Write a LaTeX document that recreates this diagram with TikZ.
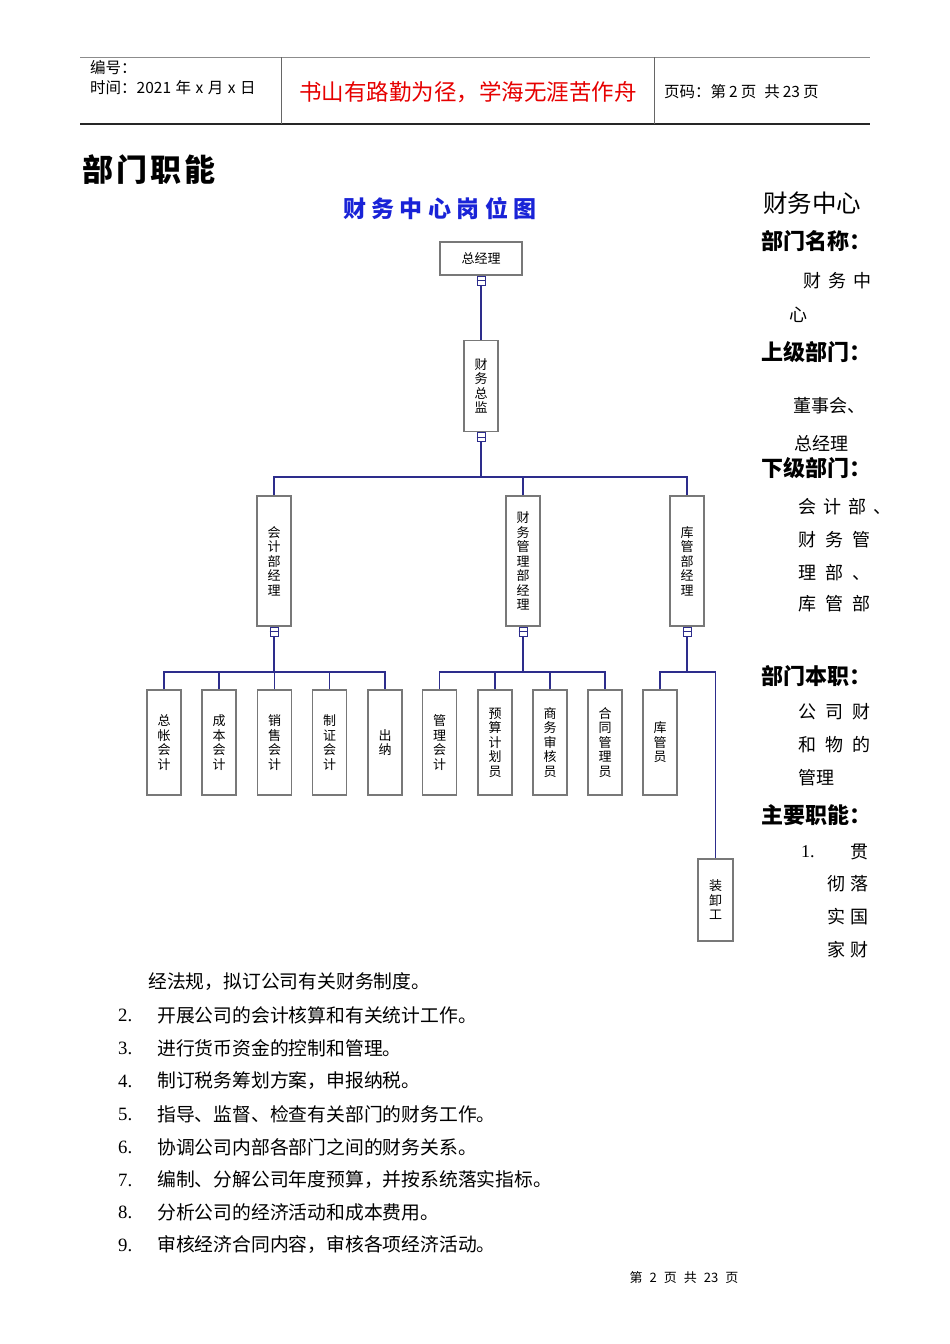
\documentclass[tikz,border=0pt]{standalone}
\usepackage{fontspec}
\setmainfont{Noto Sans CJK SC}
\newfontfamily\numfont{Liberation Serif}
\definecolor{lineblue}{RGB}{45,45,140}
\definecolor{boxgray}{RGB}{120,120,120}
\definecolor{mottored}{RGB}{230,0,0}
\definecolor{titleblue}{RGB}{25,35,215}
\newcommand{\rh}{\fontsize{22}{22}\selectfont\bfseries}
\newcommand{\rb}{\fontsize{18}{18}\selectfont}
\newcommand{\lb}{\fontsize{18.8}{18.8}\selectfont}
\begin{document}
\begin{tikzpicture}[x=1pt,y=-1pt,
  box/.style={draw=boxgray, line width=1.3pt, fill=white, inner sep=0pt, align=center, font=\fontsize{13}{14.5}\selectfont},
  conn/.style={draw=lineblue, line width=1.4pt},
  sq/.style={draw=lineblue, line width=1pt, minimum width=8pt, minimum height=9pt, inner sep=0pt, fill=white, anchor=north},
  txt/.style={anchor=west, inner sep=0pt},
]
\useasboundingbox (0,0) rectangle (950,1344);
\fill[white] (0,0) rectangle (950,1344);

% header
\draw[black!45, line width=1pt] (80,57) -- (870,57);
\draw[black!85, line width=1.2pt] (80,124) -- (870,124);
\draw[black!60, line width=1pt] (281,57) -- (281,124);
\draw[black!60, line width=1pt] (654,57) -- (654,124);
\node[txt] (bh) at (90,68) {\fontsize{15.5}{15.5}\selectfont 编号：};
\node[txt] (sj) at (90,88) {\fontsize{15.5}{15.5}\selectfont 时间：2021\hspace{4.5pt}年\hspace{4.5pt}x\hspace{4.5pt}月\hspace{4.5pt}x\hspace{4.5pt}日};
\node[text=mottored, inner sep=0pt] (motto) at (468,92) {\fontsize{22.5}{23}\selectfont 书山有路勤为径，学海无涯苦作舟};
\node[txt] (ym) at (664,92) {\fontsize{15.5}{15.5}\selectfont 页码：第\hspace{3pt}2\hspace{3pt}页\hspace{8pt}共\hspace{3pt}23\hspace{3pt}页};

\node[txt] (bmzn) at (82,170) {\fontsize{31}{31}\selectfont\bfseries 部\hspace{3pt}门\hspace{3pt}职\hspace{3pt}能};

% title
\node[text=titleblue, inner sep=0pt] (title) at (440,209) {\fontsize{23}{23}\selectfont\bfseries 财\hspace{5.5pt}务\hspace{5.5pt}中\hspace{5.5pt}心\hspace{5.5pt}岗\hspace{5.5pt}位\hspace{5.5pt}图};

% org chart
\node[box, minimum width=82pt, minimum height=33pt] (zjl) at (481,258.5) {总经理};
\node[sq] (s0) at (zjl.south) {};
\node[box, minimum width=34pt, minimum height=91pt] (cwzj) at (481,386) {财\\务\\总\\监};
\node[sq] (s1) at (cwzj.south) {};
\coordinate (bus1) at (481,477);

\node[box, minimum width=34pt, minimum height=130pt] (m1) at (274,561) {会\\计\\部\\经\\理};
\node[box, minimum width=34pt, minimum height=130pt] (m2) at (523,561) {财\\务\\管\\理\\部\\经\\理};
\node[box, minimum width=34pt, minimum height=130pt] (m3) at (687,561) {库\\管\\部\\经\\理};
\node[sq] (s2) at (m1.south) {};
\node[sq] (s3) at (m2.south) {};
\node[sq] (s4) at (m3.south) {};
\coordinate (bus2) at (0,672);

\node[box, minimum width=34pt, minimum height=105pt] (a1) at (164,742.5) {总\\帐\\会\\计};
\node[box, minimum width=34pt, minimum height=105pt] (a2) at (219,742.5) {成\\本\\会\\计};
\node[box, minimum width=34pt, minimum height=105pt] (a3) at (274.5,742.5) {销\\售\\会\\计};
\node[box, minimum width=34pt, minimum height=105pt] (a4) at (329.5,742.5) {制\\证\\会\\计};
\node[box, minimum width=34pt, minimum height=105pt] (a5) at (385,742.5) {出\\纳};
\node[box, minimum width=34pt, minimum height=105pt] (b1) at (439.5,742.5) {管\\理\\会\\计};
\node[box, minimum width=34pt, minimum height=105pt] (b2) at (495,742.5) {预\\算\\计\\划\\员};
\node[box, minimum width=34pt, minimum height=105pt] (b3) at (550,742.5) {商\\务\\审\\核\\员};
\node[box, minimum width=34pt, minimum height=105pt] (b4) at (605,742.5) {合\\同\\管\\理\\员};
\node[box, minimum width=34pt, minimum height=105pt] (c1) at (660,742.5) {库\\管\\员};
\node[box, minimum width=35pt, minimum height=82pt] (zx) at (715.5,900) {装\\卸\\工};

\foreach \s in {s0,s1,s2,s3,s4} \draw[lineblue, line width=0.8pt] (\s.west) -- (\s.east);

\draw[conn] (s0.south) -- (cwzj.north);
\draw[conn] (s1.south) -- (bus1);
\draw[conn] (m1.north) -- (m1.north |- bus1) -- (m3.north |- bus1) -- (m3.north);
\draw[conn] (m2.north) -- (m2.north |- bus1);

\draw[conn] (s2.south) -- (s2.south |- bus2);
\draw[conn] (a1.north) -- (a1.north |- bus2) -- (a5.north |- bus2) -- (a5.north);
\foreach \n in {a2,a3,a4} \draw[conn] (\n.north) -- (\n.north |- bus2);

\draw[conn] (s3.south) -- (s3.south |- bus2);
\draw[conn] (b1.north) -- (b1.north |- bus2) -- (b4.north |- bus2) -- (b4.north);
\foreach \n in {b2,b3} \draw[conn] (\n.north) -- (\n.north |- bus2);

\draw[conn] (s4.south) -- (s4.south |- bus2);
\draw[conn] (c1.north) -- (c1.north |- bus2) -- (zx.north |- bus2) -- (zx.north);

% right column
\node[txt] (r1) at (763,203) {\fontsize{24.5}{24.5}\selectfont 财务中心};
\node[txt] (r2) at (761,241) {\rh 部门名称：};
\node[txt] (r3) at (803,281) {\rb 财\hspace{7pt}务\hspace{7pt}中};
\node[txt] (r4) at (789,315) {\rb 心};
\node[txt] (r5) at (761,352) {\rh 上级部门：};
\node[txt] (r6) at (793,406) {\rb 董事会、};
\node[txt] (r7) at (794,444) {\rb 总经理};
\node[txt] (r8) at (761,468) {\rh 下级部门：};
\node[txt] (r9) at (798,507) {\rb 会\hspace{7pt}计\hspace{7pt}部\hspace{7pt}、};
\node[txt] (r10) at (798,540) {\rb 财\hspace{9pt}务\hspace{9pt}管};
\node[txt] (r11) at (798,573) {\rb 理\hspace{9pt}部\hspace{9pt}、};
\node[txt] (r12) at (798,604) {\rb 库\hspace{9pt}管\hspace{9pt}部};
\node[txt] (r13) at (761,676) {\rh 部门本职：};
\node[txt] (r14) at (798,712) {\rb 公\hspace{9pt}司\hspace{9pt}财};
\node[txt] (r15) at (798,745) {\rb 和\hspace{9pt}物\hspace{9pt}的};
\node[txt] (r16) at (798,778) {\rb 管理};
\node[txt] (r17) at (761,815) {\rh 主要职能：};
\node[txt] (r18) at (801,852) {\rb\numfont 1.};
\node[txt] (r19) at (850,852) {\rb 贯};
\node[txt] (r20) at (827,884) {\rb 彻\hspace{5pt}落};
\node[txt] (r21) at (827,917) {\rb 实\hspace{5pt}国};
\node[txt] (r22) at (827,950) {\rb 家\hspace{5pt}财};

% bottom list
\node[txt] (l1) at (148,982) {\lb 经法规，拟订公司有关财务制度。};
\foreach \y/\n/\t in {1015/2/开展公司的会计核算和有关统计工作。,
  1048/3/进行货币资金的控制和管理。,
  1081/4/制订税务筹划方案，申报纳税。,
  1114/5/指导、监督、检查有关部门的财务工作。,
  1147/6/协调公司内部各部门之间的财务关系。,
  1180/7/编制、分解公司年度预算，并按系统落实指标。,
  1212/8/分析公司的经济活动和成本费用。,
  1245/9/审核经济合同内容，审核各项经济活动。}{
  \node[txt] (n\n) at (118,\y) {\lb\numfont \n.};
  \node[txt] (t\n) at (157,\y) {\lb \t};
}

% footer
\node[inner sep=0pt] (foot) at (684,1278) {\fontsize{13}{13}\selectfont 第\hspace{7pt}2\hspace{7pt}页\hspace{7pt}共\hspace{7pt}23\hspace{7pt}页};
\end{tikzpicture}
\end{document}
